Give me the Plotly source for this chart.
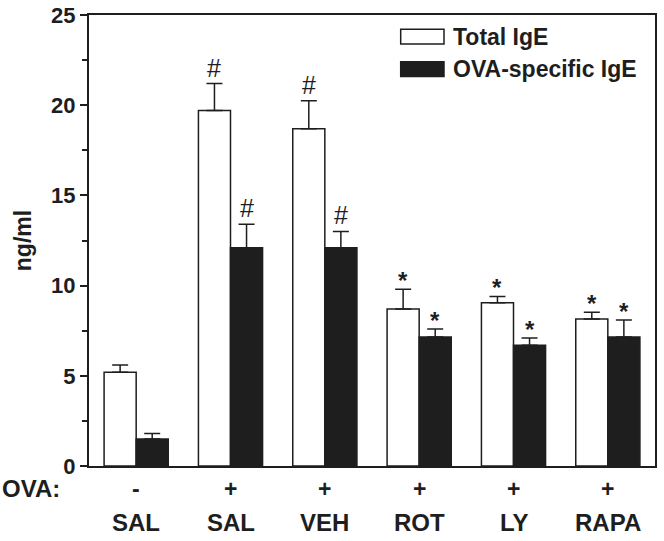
import plotly.graph_objects as go

groups = ["SAL", "SAL", "VEH", "ROT", "LY", "RAPA"]
ova = ["-", "+", "+", "+", "+", "+"]
total_ige = [5.2, 19.7, 18.7, 8.7, 9.05, 8.15]
total_err = [0.4, 1.5, 1.55, 1.1, 0.35, 0.37]
ova_ige = [1.5, 12.1, 12.1, 7.15, 6.7, 7.15]
ova_err = [0.3, 1.3, 0.9, 0.45, 0.4, 0.95]
total_mark = ["", "#", "#", "*", "*", "*"]
ova_mark = ["", "#", "#", "*", "*", "*"]

xs = list(range(len(groups)))
FONT = "Liberation Sans, Arial, sans-serif"
INK = "#1e1e1e"
BARGAP = 0.32
OFF = (1 - BARGAP) / 4

fig = go.Figure()
fig.add_trace(go.Bar(
    x=xs, y=total_ige, name="Total IgE",
    marker=dict(color="white", line=dict(color=INK, width=1.5)),
    error_y=dict(type="data", symmetric=False, array=total_err,
                 arrayminus=[0] * len(xs), color=INK, thickness=1.5, width=8),
))
fig.add_trace(go.Bar(
    x=xs, y=ova_ige, name="OVA-specific IgE",
    marker=dict(color=INK, line=dict(color=INK, width=1.5)),
    error_y=dict(type="data", symmetric=False, array=ova_err,
                 arrayminus=[0] * len(xs), color=INK, thickness=1.5, width=8),
))

ann = []
for i in xs:
    for off, v, e, m in ((-OFF, total_ige[i], total_err[i], total_mark[i]),
                         (OFF, ova_ige[i], ova_err[i], ova_mark[i])):
        if m:
            if m == "#":
                txt, size, ys = "#", 25, 0
            else:
                txt, size, ys = "<b>*</b>", 24, -7
            ann.append(dict(x=i + off, y=v + e, xref="x", yref="y", text=txt,
                            showarrow=False, yanchor="bottom", yshift=ys,
                            font=dict(family=FONT, size=size, color=INK)))
    ann.append(dict(x=i, y=-0.05, xref="x", yref="paper", text="<b>%s</b>" % ova[i],
                    showarrow=False, yanchor="middle",
                    font=dict(family=FONT, size=23, color=INK)))
    ann.append(dict(x=i, y=-0.126, xref="x", yref="paper", text="<b>%s</b>" % groups[i],
                    showarrow=False, yanchor="middle",
                    font=dict(family=FONT, size=24, color=INK)))
ann.append(dict(x=-0.157, y=-0.05, xref="paper", yref="paper", text="<b>OVA:</b>",
                showarrow=False, xanchor="left", yanchor="middle",
                font=dict(family=FONT, size=24, color=INK)))

# legend drawn manually
leg = [("Total IgE", "white", 0.952), ("OVA-specific IgE", INK, 0.880)]
shapes = []
for name, col, yc in leg:
    shapes.append(dict(type="rect", xref="paper", yref="paper",
                       x0=0.5507, x1=0.6272, y0=yc - 0.0165, y1=yc + 0.0165,
                       fillcolor=col, line=dict(color=INK, width=1.5)))
    ann.append(dict(x=0.6390, y=yc, xref="paper", yref="paper", text="<b>%s</b>" % name,
                    showarrow=False, xanchor="left", yanchor="middle",
                    font=dict(family=FONT, size=23, color=INK)))

fig.update_layout(
    width=664, height=541,
    margin=dict(l=89, r=9, t=15, b=75, autoexpand=False),
    paper_bgcolor="white", plot_bgcolor="white",
    barmode="group", bargap=BARGAP, bargroupgap=0,
    showlegend=False,
    annotations=ann, shapes=shapes,
    font=dict(family=FONT, color=INK),
)
fig.update_xaxes(range=[-0.5, 5.5], showticklabels=False, ticks="",
                 showline=True, linecolor=INK, linewidth=2, mirror=True,
                 showgrid=False, zeroline=False, automargin=False)
fig.update_yaxes(range=[0, 25], tickvals=[0, 5, 10, 15, 20, 25],
                 ticktext=["<b>%d</b>" % v for v in [0, 5, 10, 15, 20, 25]],
                 tickfont=dict(family=FONT, size=22, color=INK),
                 ticks="outside", ticklen=7, tickwidth=2, tickcolor=INK,
                 minor=dict(tickvals=[2.5, 7.5, 12.5, 17.5, 22.5], ticks="outside",
                            ticklen=5, tickwidth=2, tickcolor=INK),
                 showline=True, linecolor=INK, linewidth=2, mirror=True,
                 showgrid=False, zeroline=False, automargin=False,
                 title=dict(text="<b>ng/ml</b>", font=dict(family=FONT, size=23, color=INK),
                            standoff=13))

fig.write_html("out.html", config={"displayModeBar": False},
               post_script="document.body.style.margin='0px';document.body.style.overflow='hidden';")
